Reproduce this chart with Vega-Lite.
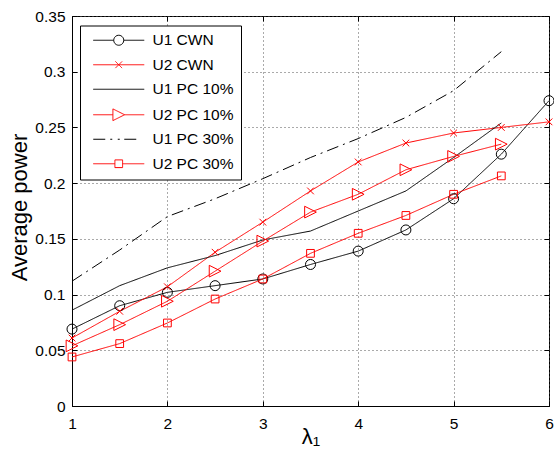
{
  "$schema": "https://vega.github.io/schema/vega-lite/v6.json",
  "width": 477,
  "height": 390,
  "autosize": {"type": "none"},
  "padding": {"left": 72, "top": 16, "right": 5, "bottom": 50},
  "background": "white",
  "config": {
    "font": "Liberation Sans",
    "view": {"stroke": "black", "strokeWidth": 1},
    "axis": {
      "domainColor": "black",
      "tickColor": "black",
      "tickSize": -5,
      "labelColor": "black",
      "labelFont": "Liberation Sans",
      "labelFontSize": 15.5,
      "labelFlush": false,
      "titleColor": "black",
      "titleFont": "Liberation Sans",
      "titleFontSize": 22,
      "titleFontWeight": "normal",
      "gridColor": "#555555",
      "gridDash": [1, 3],
      "gridOpacity": 1
    },
    "legend": {
      "orient": "none",
      "legendX": 8,
      "legendY": 9.5,
      "strokeColor": "black",
      "fillColor": "white",
      "padding": 7,
      "labelFont": "Liberation Sans",
      "labelFontSize": 15.5,
      "labelColor": "black",
      "labelLimit": 300,
      "labelExpr": "datum.label + '\u00a0\u00a0'",
      "symbolSize": 100,
      "symbolStrokeWidth": 1,
      "symbolOffset": 24,
      "labelOffset": 26,
      "rowPadding": 7.5
    }
  },
  "data": {
    "values": [
      {"s": "U1 CWN", "x": 1, "y": 0.069}, {"s": "U1 CWN", "x": 1.5, "y": 0.090}, {"s": "U1 CWN", "x": 2, "y": 0.102},
      {"s": "U1 CWN", "x": 2.5, "y": 0.108}, {"s": "U1 CWN", "x": 3, "y": 0.114}, {"s": "U1 CWN", "x": 3.5, "y": 0.127},
      {"s": "U1 CWN", "x": 4, "y": 0.139}, {"s": "U1 CWN", "x": 4.5, "y": 0.158}, {"s": "U1 CWN", "x": 5, "y": 0.186},
      {"s": "U1 CWN", "x": 5.5, "y": 0.226}, {"s": "U1 CWN", "x": 6, "y": 0.274},

      {"s": "U2 CWN", "x": 1, "y": 0.061}, {"s": "U2 CWN", "x": 1.5, "y": 0.085}, {"s": "U2 CWN", "x": 2, "y": 0.107},
      {"s": "U2 CWN", "x": 2.5, "y": 0.138}, {"s": "U2 CWN", "x": 3, "y": 0.165}, {"s": "U2 CWN", "x": 3.5, "y": 0.193},
      {"s": "U2 CWN", "x": 4, "y": 0.219}, {"s": "U2 CWN", "x": 4.5, "y": 0.236}, {"s": "U2 CWN", "x": 5, "y": 0.245},
      {"s": "U2 CWN", "x": 5.5, "y": 0.250}, {"s": "U2 CWN", "x": 6, "y": 0.255},

      {"s": "U1 PC 10%", "x": 1, "y": 0.086}, {"s": "U1 PC 10%", "x": 1.5, "y": 0.108}, {"s": "U1 PC 10%", "x": 2, "y": 0.124},
      {"s": "U1 PC 10%", "x": 2.5, "y": 0.135}, {"s": "U1 PC 10%", "x": 3, "y": 0.149}, {"s": "U1 PC 10%", "x": 3.5, "y": 0.157},
      {"s": "U1 PC 10%", "x": 4, "y": 0.175}, {"s": "U1 PC 10%", "x": 4.5, "y": 0.193}, {"s": "U1 PC 10%", "x": 5, "y": 0.223},
      {"s": "U1 PC 10%", "x": 5.5, "y": 0.254},

      {"s": "U2 PC 10%", "x": 1, "y": 0.054}, {"s": "U2 PC 10%", "x": 1.5, "y": 0.073}, {"s": "U2 PC 10%", "x": 2, "y": 0.094},
      {"s": "U2 PC 10%", "x": 2.5, "y": 0.121}, {"s": "U2 PC 10%", "x": 3, "y": 0.148}, {"s": "U2 PC 10%", "x": 3.5, "y": 0.174},
      {"s": "U2 PC 10%", "x": 4, "y": 0.190}, {"s": "U2 PC 10%", "x": 4.5, "y": 0.212}, {"s": "U2 PC 10%", "x": 5, "y": 0.224},
      {"s": "U2 PC 10%", "x": 5.5, "y": 0.235},

      {"s": "U1 PC 30%", "x": 1, "y": 0.112}, {"s": "U1 PC 30%", "x": 1.5, "y": 0.140}, {"s": "U1 PC 30%", "x": 2, "y": 0.170},
      {"s": "U1 PC 30%", "x": 2.5, "y": 0.186}, {"s": "U1 PC 30%", "x": 3, "y": 0.204}, {"s": "U1 PC 30%", "x": 3.5, "y": 0.223},
      {"s": "U1 PC 30%", "x": 4, "y": 0.240}, {"s": "U1 PC 30%", "x": 4.5, "y": 0.259}, {"s": "U1 PC 30%", "x": 5, "y": 0.283},
      {"s": "U1 PC 30%", "x": 5.5, "y": 0.318},

      {"s": "U2 PC 30%", "x": 1, "y": 0.044}, {"s": "U2 PC 30%", "x": 1.5, "y": 0.056}, {"s": "U2 PC 30%", "x": 2, "y": 0.0745},
      {"s": "U2 PC 30%", "x": 2.5, "y": 0.096}, {"s": "U2 PC 30%", "x": 3, "y": 0.114}, {"s": "U2 PC 30%", "x": 3.5, "y": 0.137},
      {"s": "U2 PC 30%", "x": 4, "y": 0.155}, {"s": "U2 PC 30%", "x": 4.5, "y": 0.171}, {"s": "U2 PC 30%", "x": 5, "y": 0.190},
      {"s": "U2 PC 30%", "x": 5.5, "y": 0.2065}
    ]
  },
  "layer": [
    {
      "transform": [{"filter": "false"}],
      "mark": {"type": "point", "filled": false, "opacity": 1, "strokeWidth": 1},
      "encoding": {
        "x": {
          "field": "x", "type": "quantitative",
          "scale": {"domain": [1, 6], "nice": false, "zero": false},
          "axis": {"orient": "top", "labels": false, "domain": false, "grid": false, "title": null, "values": [1, 2, 3, 4, 5, 6]}
        },
        "y": {
          "field": "y", "type": "quantitative",
          "scale": {"domain": [0, 0.35], "nice": false},
          "axis": {"orient": "right", "labels": false, "domain": false, "grid": false, "title": null, "values": [0, 0.05, 0.1, 0.15, 0.2, 0.25, 0.3, 0.35]}
        },
        "stroke": {
          "field": "s", "type": "nominal",
          "scale": {
            "domain": ["U1 CWN", "U2 CWN", "U1 PC 10%", "U2 PC 10%", "U1 PC 30%", "U2 PC 30%"],
            "range": ["black", "red", "black", "red", "black", "red"]
          },
          "legend": {"title": null}
        },
        "shape": {
          "field": "s", "type": "nominal",
          "scale": {
            "domain": ["U1 CWN", "U2 CWN", "U1 PC 10%", "U2 PC 10%", "U1 PC 30%", "U2 PC 30%"],
            "range": [
              "M-5.1,0L-1,0M1,0L5.1,0M-1,0A1,1,0,1,1,1,0A1,1,0,1,1,-1,0Z",
              "M-5.1,0L5.1,0M-0.67,-0.67L0.67,0.67M-0.67,0.67L0.67,-0.67",
              "M-5.1,0L5.1,0",
              "M-5.1,0L-1.17,0M1.17,0L5.1,0M-1.17,-1.17L1.17,0L-1.17,1.17Z",
              "M-5.1,0L-1.2,0M-0.2,0L0.2,0M1.1,0L4.1,0",
              "M-5.1,0L-0.77,0M0.77,0L5.1,0M-0.77,-0.77L0.77,-0.77L0.77,0.77L-0.77,0.77Z"
            ]
          },
          "legend": {"title": null}
        }
      }
    },
    {
      "mark": {"type": "line", "strokeWidth": 1},
      "encoding": {
        "x": {
          "field": "x", "type": "quantitative",
          "axis": {"orient": "bottom", "values": [1, 2, 3, 4, 5, 6], "format": "d", "grid": true, "labelPadding": 15,
                   "title": "λ₁", "titleBaseline": "alphabetic", "titleY": 37}
        },
        "y": {
          "field": "y", "type": "quantitative",
          "axis": {"orient": "left", "values": [0, 0.05, 0.1, 0.15, 0.2, 0.25, 0.3, 0.35], "format": "~g", "grid": true, "labelPadding": 12,
                   "title": "Average power", "titleBaseline": "alphabetic", "titleX": -46, "titleY": 191, "titleAngle": 270}
        },
        "color": {
          "field": "s", "type": "nominal",
          "scale": {
            "domain": ["U1 CWN", "U2 CWN", "U1 PC 10%", "U2 PC 10%", "U1 PC 30%", "U2 PC 30%"],
            "range": ["black", "red", "black", "red", "black", "red"]
          },
          "legend": null
        },
        "strokeDash": {
          "field": "s", "type": "nominal",
          "scale": {
            "domain": ["U1 CWN", "U2 CWN", "U1 PC 10%", "U2 PC 10%", "U1 PC 30%", "U2 PC 30%"],
            "range": [[1, 0], [1, 0], [1, 0], [1, 0], [12, 5, 2, 5], [1, 0]]
          },
          "legend": null
        }
      }
    },
    {
      "transform": [{"filter": "datum.s === 'U1 CWN'"}],
      "mark": {"type": "point", "shape": "circle", "filled": false, "size": 100, "color": "black", "opacity": 1, "strokeWidth": 1},
      "encoding": {
        "x": {"field": "x", "type": "quantitative", "axis": null},
        "y": {"field": "y", "type": "quantitative", "axis": null}
      }
    },
    {
      "transform": [{"filter": "datum.s === 'U2 CWN'"}],
      "mark": {"type": "point", "shape": "M-1,-1L1,1M-1,1L1,-1", "filled": false, "size": 45, "color": "red", "opacity": 1, "strokeWidth": 1},
      "encoding": {
        "x": {"field": "x", "type": "quantitative", "axis": null},
        "y": {"field": "y", "type": "quantitative", "axis": null}
      }
    },
    {
      "transform": [{"filter": "datum.s === 'U2 PC 10%'"}],
      "mark": {"type": "point", "shape": "M-1,-1L1,0L-1,1Z", "filled": false, "size": 137, "color": "red", "opacity": 1, "strokeWidth": 1},
      "encoding": {
        "x": {"field": "x", "type": "quantitative", "axis": null},
        "y": {"field": "y", "type": "quantitative", "axis": null}
      }
    },
    {
      "transform": [{"filter": "datum.s === 'U2 PC 30%'"}],
      "mark": {"type": "point", "shape": "square", "filled": false, "size": 60, "color": "red", "opacity": 1, "strokeWidth": 1},
      "encoding": {
        "x": {"field": "x", "type": "quantitative", "axis": null},
        "y": {"field": "y", "type": "quantitative", "axis": null}
      }
    }
  ],
  "resolve": {"axis": {"x": "independent", "y": "independent"}}
}
